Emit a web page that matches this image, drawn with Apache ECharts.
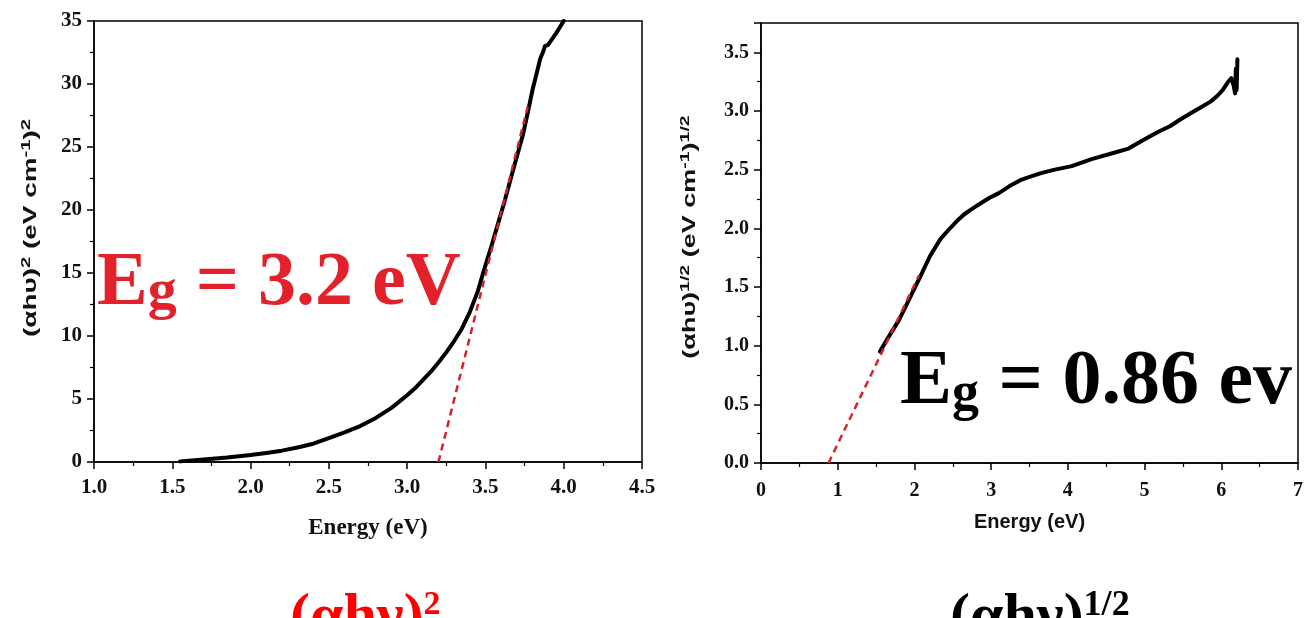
<!DOCTYPE html>
<html>
<head>
<meta charset="utf-8">
<title>Tauc plots</title>
<script src="https://cdn.jsdelivr.net/npm/echarts@6/dist/echarts.min.js"></script>
<style>
  html, body { margin: 0; padding: 0; background: #fff; }
  #chart { width: 1306px; height: 618px; }
</style>
</head>
<body>
<div id="chart"></div>
<script>
// ---------- datos ----------
// Panel izquierdo: (αhν)^2 vs energia
const energiaDirecta = [1.55, 1.70, 1.85, 2.00, 2.10, 2.20, 2.30, 2.40, 2.50, 2.60, 2.70, 2.80, 2.90,
  3.00, 3.05, 3.10, 3.15, 3.20, 3.25, 3.30, 3.35, 3.40, 3.45, 3.50, 3.54, 3.58, 3.62, 3.66, 3.70,
  3.74, 3.77, 3.80, 3.83, 3.85, 3.87, 3.88, 3.90, 3.95, 4.00];
const valorDirecta = [0.05, 0.20, 0.35, 0.55, 0.72, 0.90, 1.15, 1.45, 1.90, 2.35, 2.85, 3.50, 4.30,
  5.30, 5.85, 6.50, 7.15, 7.90, 8.70, 9.60, 10.6, 11.9, 13.5, 15.6, 17.2, 18.9, 20.6, 22.4, 24.2,
  26.0, 27.7, 29.5, 31.0, 32.0, 32.6, 33.0, 33.1, 34.0, 35.0];
// recta de extrapolacion (corta en 3.2 eV)
const ajusteDirectaX = [3.20, 3.77];
const ajusteDirectaY = [0, 28.2];

// Panel derecho: (αhν)^1/2 vs energia
const energiaIndirecta = [1.55, 1.65, 1.80, 1.95, 2.07, 2.20, 2.34, 2.45, 2.55, 2.65, 2.76, 2.88, 2.98,
  3.10, 3.24, 3.38, 3.51, 3.65, 3.83, 4.05, 4.31, 4.58, 4.79, 4.95, 5.06, 5.20, 5.33, 5.47, 5.60,
  5.73, 5.86, 5.95, 6.02, 6.08, 6.13, 6.16, 6.18, 6.19, 6.20, 6.21];
const valorIndirecta = [0.95, 1.06, 1.22, 1.42, 1.58, 1.76, 1.91, 1.99, 2.06, 2.12, 2.17, 2.22, 2.26,
  2.30, 2.36, 2.41, 2.44, 2.47, 2.50, 2.53, 2.59, 2.64, 2.68, 2.74, 2.78, 2.83, 2.87, 2.93, 2.98,
  3.03, 3.08, 3.13, 3.18, 3.24, 3.28, 3.22, 3.15, 3.36, 3.18, 3.44];
// recta de extrapolacion (corta en 0.86 eV)
const ajusteIndirectaX = [0.88, 2.06];
const ajusteIndirectaY = [0, 1.60];

// rangos y etiquetas de los ejes
const ejeXIzq = { min: 1.0, max: 4.5, paso: 0.5 };
const ejeYIzq = { min: 0, max: 35, paso: 5 };
const ejeXDer = { min: 0, max: 7, paso: 1 };
const ejeYDer = { min: 0, max: 3.75, paso: 0.5 };

const textoGapIzq = '{E|E}{g|g}{E| = 3.2 eV}';
const textoGapDer = '{E|E}{g|g}{E| = 0.86 ev}';
const tituloYIzq = '{a|(αhυ)}{s|2}{a| (eV cm}{s|-1}{a|)}{s|2}';
const tituloYDer = '{a|(αhυ)}{s|1/2}{a| (eV cm}{s|-1}{a|)}{s|1/2}';
const leyendaIzq = '{a|(αhν)}{s|2}';
const leyendaDer = '{a|(αhν)}{s|1/2}';

// ---------- helpers ----------
function pares(xs, ys) {
  return xs.map((x, i) => [x, ys[i]]);
}

const serif = 'Liberation Serif';
const sans = 'Liberation Sans';

function ejeValor(rango, decimales, extra) {
  return Object.assign({
    type: 'value',
    min: rango.min,
    max: rango.max,
    interval: rango.paso,
    axisLine: { show: true, onZero: false, lineStyle: { color: '#000', width: 1.5 } },
    axisTick: { show: true, inside: false, length: 7, lineStyle: { color: '#000', width: 1.5 } },
    minorTick: { show: true, splitNumber: 2, length: 4, lineStyle: { color: '#000', width: 1.2 } },
    splitLine: { show: false },
    axisLabel: {
      fontFamily: serif,
      fontWeight: 'bold',
      fontSize: 21,
      color: '#111',
      formatter: function (v) {
        // solo multiplos del paso
        let k = (v - rango.min) / rango.paso;
        if (Math.abs(k - Math.round(k)) > 1e-6) return '';
        return v.toFixed(decimales);
      }
    }
  }, extra);
}

function fusion(base, extra) {
  let r = Object.assign({}, base);
  for (let k in extra) r[k] = Object.assign({}, base[k], extra[k]);
  return r;
}

const chart = echarts.init(document.getElementById('chart'));

const option = {
  animation: false,
  backgroundColor: '#fff',
  grid: [
    { left: 94, right: 664, top: 21, bottom: 156, show: true, borderColor: '#000', borderWidth: 1.5, outerBoundsMode: 'none' },
    { left: 761, right: 8, top: 23, bottom: 155, show: true, borderColor: '#000', borderWidth: 1.5, outerBoundsMode: 'none' }
  ],
  xAxis: [
    fusion(ejeValor(ejeXIzq, 1, {
      gridIndex: 0,
      name: 'Energy (eV)',
      nameLocation: 'middle',
      nameGap: 55,
      nameTextStyle: { fontFamily: serif, fontWeight: 'bold', fontSize: 23, color: '#111' }
    }), { axisLabel: { margin: 15 } }),
    fusion(ejeValor(ejeXDer, 0, {
      gridIndex: 1,
      name: 'Energy (eV)',
      nameLocation: 'middle',
      nameGap: 49,
      nameTextStyle: { fontFamily: sans, fontWeight: 'bold', fontSize: 20, color: '#111' }
    }), { axisLabel: { margin: 18, fontSize: 20 } })
  ],
  yAxis: [
    fusion(ejeValor(ejeYIzq, 0, { gridIndex: 0 }), { axisLabel: { margin: 12 } }),
    fusion(ejeValor(ejeYDer, 1, { gridIndex: 1 }), { axisLabel: { margin: 12, fontSize: 20 } })
  ],
  series: [
    {
      type: 'line',
      xAxisIndex: 0, yAxisIndex: 0,
      data: pares(energiaDirecta, valorDirecta),
      showSymbol: false, symbol: 'none',
      lineStyle: { color: '#000', width: 4, join: 'round', cap: 'round' },
      z: 2
    },
    {
      type: 'line',
      xAxisIndex: 0, yAxisIndex: 0,
      data: pares(ajusteDirectaX, ajusteDirectaY),
      symbol: 'none',
      lineStyle: { color: '#d4232b', width: 2.5, type: [7, 5] },
      z: 3
    },
    {
      type: 'line',
      xAxisIndex: 1, yAxisIndex: 1,
      data: pares(energiaIndirecta, valorIndirecta),
      symbol: 'none',
      lineStyle: { color: '#000', width: 4, join: 'round', cap: 'round' },
      z: 2
    },
    {
      type: 'line',
      xAxisIndex: 1, yAxisIndex: 1,
      data: pares(ajusteIndirectaX, ajusteIndirectaY),
      symbol: 'none',
      lineStyle: { color: '#d4232b', width: 2.5, type: [7, 5] },
      z: 3
    }
  ],
  graphic: [
    // titulos de los ejes Y (estirados como en el original)
    {
      type: 'text', x: 31, y: 228, rotation: Math.PI / 2, scaleX: 1.55, z: 10,
      style: {
        text: tituloYIzq, align: 'center', verticalAlign: 'middle', fill: '#111',
        rich: {
          a: { fontFamily: sans, fontWeight: 'bold', fontSize: 18, lineHeight: 22, fill: '#111' },
          s: { fontFamily: sans, fontWeight: 'bold', fontSize: 13, lineHeight: 12, verticalAlign: 'top', fill: '#111' }
        }
      }
    },
    {
      type: 'text', x: 690, y: 237, rotation: Math.PI / 2, scaleX: 1.5, z: 10,
      style: {
        text: tituloYDer, align: 'center', verticalAlign: 'middle', fill: '#111',
        rich: {
          a: { fontFamily: sans, fontWeight: 'bold', fontSize: 18, lineHeight: 22, fill: '#111' },
          s: { fontFamily: sans, fontWeight: 'bold', fontSize: 13, lineHeight: 12, verticalAlign: 'top', fill: '#111' }
        }
      }
    },
    // Eg en cada panel
    {
      type: 'text', x: 97, y: 246, z: 10,
      style: {
        text: textoGapIzq, align: 'left', verticalAlign: 'top', fill: '#e3212b',
        rich: {
          E: { fontFamily: serif, fontWeight: 'bold', fontSize: 76, lineHeight: 76, fill: '#e3212b' },
          g: { fontFamily: serif, fontWeight: 'bold', fontSize: 58, lineHeight: 46, verticalAlign: 'bottom', fill: '#e3212b' }
        }
      }
    },
    {
      type: 'text', x: 900, y: 344, z: 10,
      style: {
        text: textoGapDer, align: 'left', verticalAlign: 'top', fill: '#000',
        rich: {
          E: { fontFamily: serif, fontWeight: 'bold', fontSize: 78, lineHeight: 78, fill: '#000' },
          g: { fontFamily: serif, fontWeight: 'bold', fontSize: 54, lineHeight: 56, verticalAlign: 'bottom', fill: '#000' }
        }
      }
    },
    // leyendas inferiores (cortadas por el borde)
    {
      type: 'text', x: 290, y: 588, z: 10,
      style: {
        text: leyendaIzq, align: 'left', verticalAlign: 'top', fill: '#ff0000',
        rich: {
          a: { fontFamily: serif, fontWeight: 'bold', fontSize: 60, lineHeight: 60, fill: '#ff0000' },
          s: { fontFamily: serif, fontWeight: 'bold', fontSize: 34, lineHeight: 37, verticalAlign: 'top', fill: '#ff0000' }
        }
      }
    },
    {
      type: 'text', x: 950, y: 588, z: 10,
      style: {
        text: leyendaDer, align: 'left', verticalAlign: 'top', fill: '#000',
        rich: {
          a: { fontFamily: serif, fontWeight: 'bold', fontSize: 60, lineHeight: 60, fill: '#000' },
          s: { fontFamily: serif, fontWeight: 'bold', fontSize: 36, lineHeight: 34, verticalAlign: 'top', fill: '#000' }
        }
      }
    }
  ]
};

chart.setOption(option);
</script>
</body>
</html>
